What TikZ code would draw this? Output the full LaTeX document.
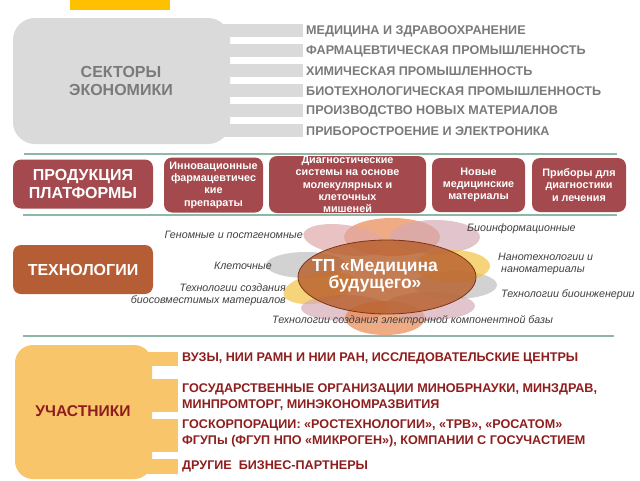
\documentclass[tikz,border=0pt]{standalone}
\usepackage{fontspec}
\setmainfont{Liberation Sans}
\usetikzlibrary{shapes.geometric}
\definecolor{secgray}{HTML}{DADADA}
\definecolor{sectext}{HTML}{7A7A7A}
\definecolor{maroon}{HTML}{A44A4E}
\definecolor{techbr}{HTML}{B55D35}
\definecolor{partyel}{HTML}{F9C56A}
\definecolor{partred}{HTML}{8E1E1E}
\definecolor{sepline}{HTML}{8DB8A8}
\definecolor{topyel}{HTML}{FFC000}
\definecolor{labgray}{HTML}{404040}
\definecolor{pOrange}{HTML}{E8844A}
\definecolor{pPink}{HTML}{DFA8A8}
\definecolor{pLav}{HTML}{D4A9B4}
\definecolor{pGray}{HTML}{BDBDBD}
\definecolor{pYel}{HTML}{F2C23C}
\definecolor{tpfill}{HTML}{B8602E}
\definecolor{tpdraw}{HTML}{7E3414}
\begin{document}
\begin{tikzpicture}[x=1pt,y=-1pt,
  sectxt/.style={anchor=west, inner sep=0pt, text=sectext, font=\fontsize{12.6}{14}\selectfont\bfseries},
  bigtxt/.style={align=center, font=\fontsize{16}{18}\selectfont\bfseries},
  prodbox/.style={fill=maroon, rounded corners=8pt, text=white, align=center, inner sep=0pt},
  smalltxt/.style={font=\fontsize{10.8}{12.3}\selectfont\bfseries},
  seprule/.style={draw=sepline, line width=1.8pt},
  lab/.style={inner sep=0pt, text=labgray, font=\fontsize{10.7}{11.8}\selectfont\itshape},
  parttxt/.style={anchor=west, inner sep=0pt, text=partred, align=left, font=\fontsize{12.6}{16.5}\selectfont\bfseries},
  petal/.style={fill opacity=0.68}
]
\useasboundingbox (0,0) rectangle (640,480);
\fill[white] (0,0) rectangle (640,480);
% top yellow tab
\fill[topyel] (70,0) rectangle (170,10);

% sectors
\fill[secgray, rounded corners=22pt] (13,18) rectangle (230,144);
\foreach \y in {24,44,64,84,104,124}{
  \fill[secgray] (215,\y) rectangle (303,\y+13);
}
\node[bigtxt, text=sectext] (sec) at (121,81) {СЕКТОРЫ\\ЭКОНОМИКИ};
\node[sectxt] (s1) at (306,31) {МЕДИЦИНА И ЗДРАВООХРАНЕНИЕ};
\node[sectxt] (s2) at (306,51) {ФАРМАЦЕВТИЧЕСКАЯ ПРОМЫШЛЕННОСТЬ};
\node[sectxt] (s3) at (306,71) {ХИМИЧЕСКАЯ ПРОМЫШЛЕННОСТЬ};
\node[sectxt] (s4) at (306,91) {БИОТЕХНОЛОГИЧЕСКАЯ ПРОМЫШЛЕННОСТЬ};
\node[sectxt] (s5) at (306,111) {ПРОИЗВОДСТВО НОВЫХ МАТЕРИАЛОВ};
\node[sectxt] (s6) at (306,131) {ПРИБОРОСТРОЕНИЕ И ЭЛЕКТРОНИКА};

% separators
\draw[seprule] (24,154) -- (617,154);
\draw[seprule] (23,215) -- (617,215);
\draw[seprule] (23,336) -- (614,336);

% products
\node[prodbox, bigtxt, minimum width=140pt, minimum height=49pt] (prod) at (83,184) {ПРОДУКЦИЯ\\ПЛАТФОРМЫ};
\node[prodbox, smalltxt, minimum width=99pt, minimum height=55pt] (p1) at (213.5,185) {Инновационные\\фармацевтичес\\кие\\препараты};
\node[prodbox, smalltxt, minimum width=157pt, minimum height=57pt] (p2) at (347.5,184.5) {Диагностические\\системы на основе\\молекулярных и\\клеточных\\мишеней};
\node[prodbox, smalltxt, minimum width=93pt, minimum height=54pt] (p3) at (478.5,185) {Новые\\медицинские\\материалы};
\node[prodbox, smalltxt, minimum width=94pt, minimum height=54pt] (p4) at (579,185) {Приборы для\\диагностики\\и лечения};

% technologies
\node[fill=techbr, rounded corners=8pt, text=white, bigtxt, minimum width=140pt, minimum height=49pt] (tech) at (83,269.5) {ТЕХНОЛОГИИ};

% petals
\fill[petal, pOrange] (392,237) ellipse [x radius=48pt, y radius=19pt];
\fill[petal, pLav] (435,237) ellipse [x radius=45pt, y radius=17pt];
\fill[petal, pPink] (345,240) ellipse [x radius=42pt, y radius=15pt, rotate=-8];
\fill[petal, pGray] (306,265) ellipse [x radius=40pt, y radius=13pt];
\fill[petal, pYel] (320,288) ellipse [x radius=37pt, y radius=15pt, rotate=10];
\fill[petal, pLav] (345,308) ellipse [x radius=44pt, y radius=13pt];
\fill[petal, pOrange] (385,318) ellipse [x radius=40pt, y radius=17pt];
\fill[petal, pLav] (430,306) ellipse [x radius=45pt, y radius=14pt];
\fill[petal, pGray] (455,285) ellipse [x radius=42pt, y radius=14pt];
\fill[petal, pYel] (452,266) ellipse [x radius=38pt, y radius=16pt];

\node[ellipse, fill=tpfill, fill opacity=0.82, draw=tpdraw, line width=0.8pt, minimum width=178pt, minimum height=74pt, inner sep=0pt] (tp) at (387,277) {};
\node[align=center, text=white, font=\fontsize{17.5}{17}\selectfont\bfseries] (tpt) at (375,276) {ТП «Медицина\\будущего»};

% technology labels
\node[lab, anchor=east] (l1) at (303,235) {Геномные и постгеномные};
\node[lab, anchor=east] (l2) at (272,266) {Клеточные};
\node[lab, anchor=east, align=right] (l3) at (286,294.5) {Технологии создания\\биосовместимых материалов};
\node[lab, anchor=west] (l4) at (272,321) {Технологии создания электронной компонентной базы};
\node[lab, anchor=west] (l5) at (467,229) {Биоинформационные};
\node[lab, anchor=west, align=left] (l6) at (498,264) {Нанотехнологии и\\\ наноматериалы};
\node[lab, anchor=west] (l7) at (501,295) {Технологии биоинженерии};

% participants
\fill[partyel, rounded corners=18pt] (15,345) rectangle (152,479);
\fill[partyel] (140,352) rectangle (178,366);
\fill[partyel] (140,379) rectangle (178,412);
\fill[partyel] (140,419) rectangle (178,452);
\fill[partyel] (140,459) rectangle (178,474);
\node[align=center, text=partred, font=\fontsize{15.6}{17}\selectfont\bfseries] (part) at (83,411) {УЧАСТНИКИ};
\node[parttxt] (r1) at (182,358) {ВУЗЫ, НИИ РАМН И НИИ РАН, ИССЛЕДОВАТЕЛЬСКИЕ ЦЕНТРЫ};
\node[parttxt] (r2) at (182,397) {ГОСУДАРСТВЕННЫЕ ОРГАНИЗАЦИИ МИНОБРНАУКИ, МИНЗДРАВ,\\МИНПРОМТОРГ, МИНЭКОНОМРАЗВИТИЯ};
\node[parttxt] (r3) at (182,433.5) {ГОСКОРПОРАЦИИ: «РОСТЕХНОЛОГИИ», «ТРВ», «РОСАТОМ»\\ФГУПы (ФГУП НПО «МИКРОГЕН»), КОМПАНИИ С ГОСУЧАСТИЕМ};
\node[parttxt] (r4) at (182,466) {ДРУГИЕ\ \ БИЗНЕС-ПАРТНЕРЫ};
\end{tikzpicture}
\end{document}
